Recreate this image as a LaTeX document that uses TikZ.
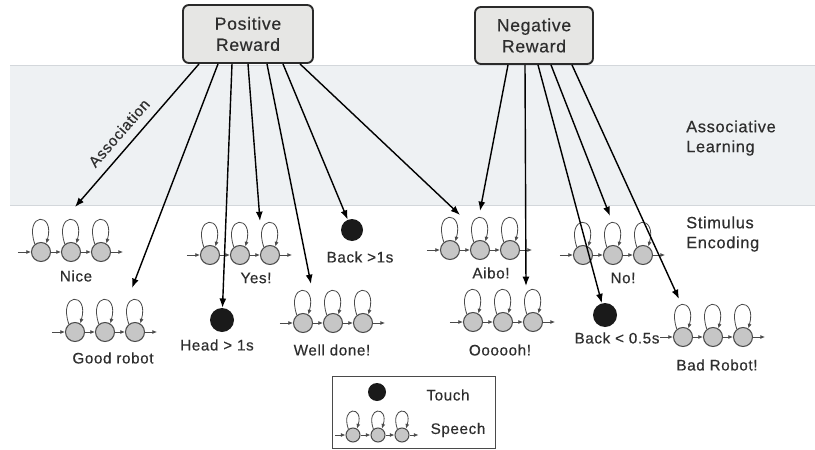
\documentclass[tikz,border=0pt]{standalone}
\usepackage{fontspec}
\setmainfont{Liberation Sans}[LetterSpace=4,FakeBold=0.4]
\usetikzlibrary{arrows.meta,calc}
\definecolor{bandc}{HTML}{EEF1F3}
\definecolor{bandl}{HTML}{D3D7DB}
\definecolor{cfill}{HTML}{C6C6C6}
\definecolor{cdraw}{HTML}{4A4A4A}
\definecolor{ctext}{HTML}{2E2E2E}
\definecolor{cbox}{HTML}{2A2A2A}
\definecolor{cboxf}{HTML}{E6E6E4}
\definecolor{ctouch}{HTML}{1A1A1A}
\tikzset{
  st/.style={circle, draw=cdraw, fill=cfill, line width=0.9pt, minimum size=0.57cm, inner sep=0pt},
  sts/.style={st, minimum size=0.42cm},
  sm/.style={-{Latex[length=1.4mm,width=1.2mm]}, line width=0.7pt, draw=cdraw},
  big/.style={-{Latex[length=2.8mm,width=2.1mm]}, line width=1.2pt, draw=black},
  lab/.style={text=ctext, font=\fontsize{13}{15}\selectfont, inner sep=0pt, align=center},
  touchc/.style={circle, fill=ctouch, inner sep=0pt},
  rbox/.style={draw=cbox, fill=cboxf, line width=1.6pt, rounded corners=5pt, align=center,
    text=ctext, font=\fontsize{15}{18}\selectfont}
}
\newcommand\selfloop[1]{\draw[sm] (#1.128) .. controls +(-11,-32) and +(9,-32) .. (#1.58);}
\newcommand\selfloopsmall[1]{\draw[sm] (#1.128) .. controls +(-8,-23) and +(7,-23) .. (#1.58);}
\newcommand\mychain[6]{%
  \node[st] (#1a) at (#2,#3) {};
  \node[st] (#1b) at (#2+30,#3) {};
  \node[st] (#1c) at (#2+60,#3) {};
  \draw[sm] ($(#1a.west)+(-13,0)$) -- (#1a.west);
  \draw[sm] (#1a) -- (#1b);
  \draw[sm] (#1b) -- (#1c);
  \draw[sm] (#1c.east) -- ($(#1c.east)+(12,0)$);
  \selfloop{#1a}\selfloop{#1b}\selfloop{#1c}
  \node[lab] (#1l) at (#5,#6) {#4};
}
\begin{document}
\begin{tikzpicture}[x=0.03cm,y=-0.03cm]
\useasboundingbox (0,0) rectangle (815,450);
\fill[white] (0,0) rectangle (815,450);
% band
\fill[bandc] (10,65) rectangle (815,205);
\draw[bandl, line width=0.6pt] (10,65) -- (815,65);
\draw[bandl, line width=0.6pt] (10,205) -- (815,205);
% side labels
\node[lab, anchor=west, align=left, font=\fontsize{14}{17}\selectfont] (assl) at (686,138) {Associative\\Learning};
\node[lab, anchor=west, align=left, font=\fontsize{14}{17}\selectfont] (stenc) at (686,234) {Stimulus\\Encoding};
% reward boxes
\node[rbox, minimum width=3.9cm, minimum height=1.74cm] (pos) at (248,34) {Positive\\Reward};
\node[rbox, minimum width=3.54cm, minimum height=1.71cm] (neg) at (534,35.5) {Negative\\Reward};
% chains
\mychain{nice}{41}{252}{Nice}{76}{276}
\mychain{good}{75}{332}{Good robot}{113}{358}
\mychain{yes}{210}{255}{Yes!}{256}{278}
\mychain{well}{303}{323}{Well done!}{332}{350}
\mychain{aibo}{450}{250}{Aibo!}{491}{273}
\mychain{ooo}{473}{322}{Oooooh!}{500}{350}
\mychain{no}{583}{255}{No!}{623}{278}
\mychain{bad}{683}{337}{Bad Robot!}{717}{365}
% touch stimuli
\node[touchc, minimum size=0.72cm] (head) at (222,320) {};
\node[lab] (headl) at (217,345) {Head > 1s};
\node[touchc, minimum size=0.66cm] (backa) at (352,230) {};
\node[lab] (backal) at (360,257) {Back >1s};
\node[touchc, minimum size=0.72cm] (backb) at (605,315) {};
\node[lab] (backbl) at (617,338) {Back < 0.5s};
% arrow targets
\coordinate (tNice) at (75,207);
\coordinate (tGood) at (132,288);
\coordinate (tYes) at (260,221);
\coordinate (tWell) at (311,284);
\coordinate (tAiboA) at (460,215);
\coordinate (tAiboB) at (480,211);
\coordinate (tOoo) at (526,286);
\coordinate (tNo) at (610,216);
\coordinate (tBad) at (679,299);
% positive arrows
\draw[big] (pos.south -| 199,0) -- (tNice);
\draw[big] (pos.south -| 218,0) -- (tGood);
\draw[big] (pos.south -| 232,0) -- (head);
\draw[big] (pos.south -| 248,0) -- (tYes);
\draw[big] (pos.south -| 267,0) -- (tWell);
\draw[big] (pos.south -| 283,0) -- (backa);
\draw[big] (pos.south -| 300,0) -- (tAiboA);
% negative arrows
\draw[big] (neg.south -| 508,0) -- (tAiboB);
\draw[big] (neg.south -| 525,0) -- (tOoo);
\draw[big] (neg.south -| 538,0) -- (backb);
\draw[big] (neg.south -| 551,0) -- (tNo);
\draw[big] (neg.south -| 572,0) -- (tBad);
% association label
\node[lab, font=\fontsize{13}{15}\selectfont, rotate=49] (assoc) at (119,133) {Association};
% legend
\node[draw=cdraw, line width=0.8pt, minimum width=4.89cm, minimum height=2.16cm, inner sep=0pt] (legend) at (413.5,412) {};
\node[touchc, minimum size=0.54cm] (ltouch) at (377,392) {};
\node[lab] (ltouchl) at (448,395) {Touch};
\node[sts] (la) at (353,435) {};
\node[sts] (lb) at (378,435) {};
\node[sts] (lc) at (402,435) {};
\draw[sm] ($(la.west)+(-10,0)$) -- (la.west);
\draw[sm] (la) -- (lb);
\draw[sm] (lb) -- (lc);
\draw[sm] (lc.east) -- ($(lc.east)+(9,0)$);
\selfloopsmall{la}\selfloopsmall{lb}\selfloopsmall{lc}
\node[lab] (lspeech) at (458,430) {Speech};
\end{tikzpicture}
\end{document}
